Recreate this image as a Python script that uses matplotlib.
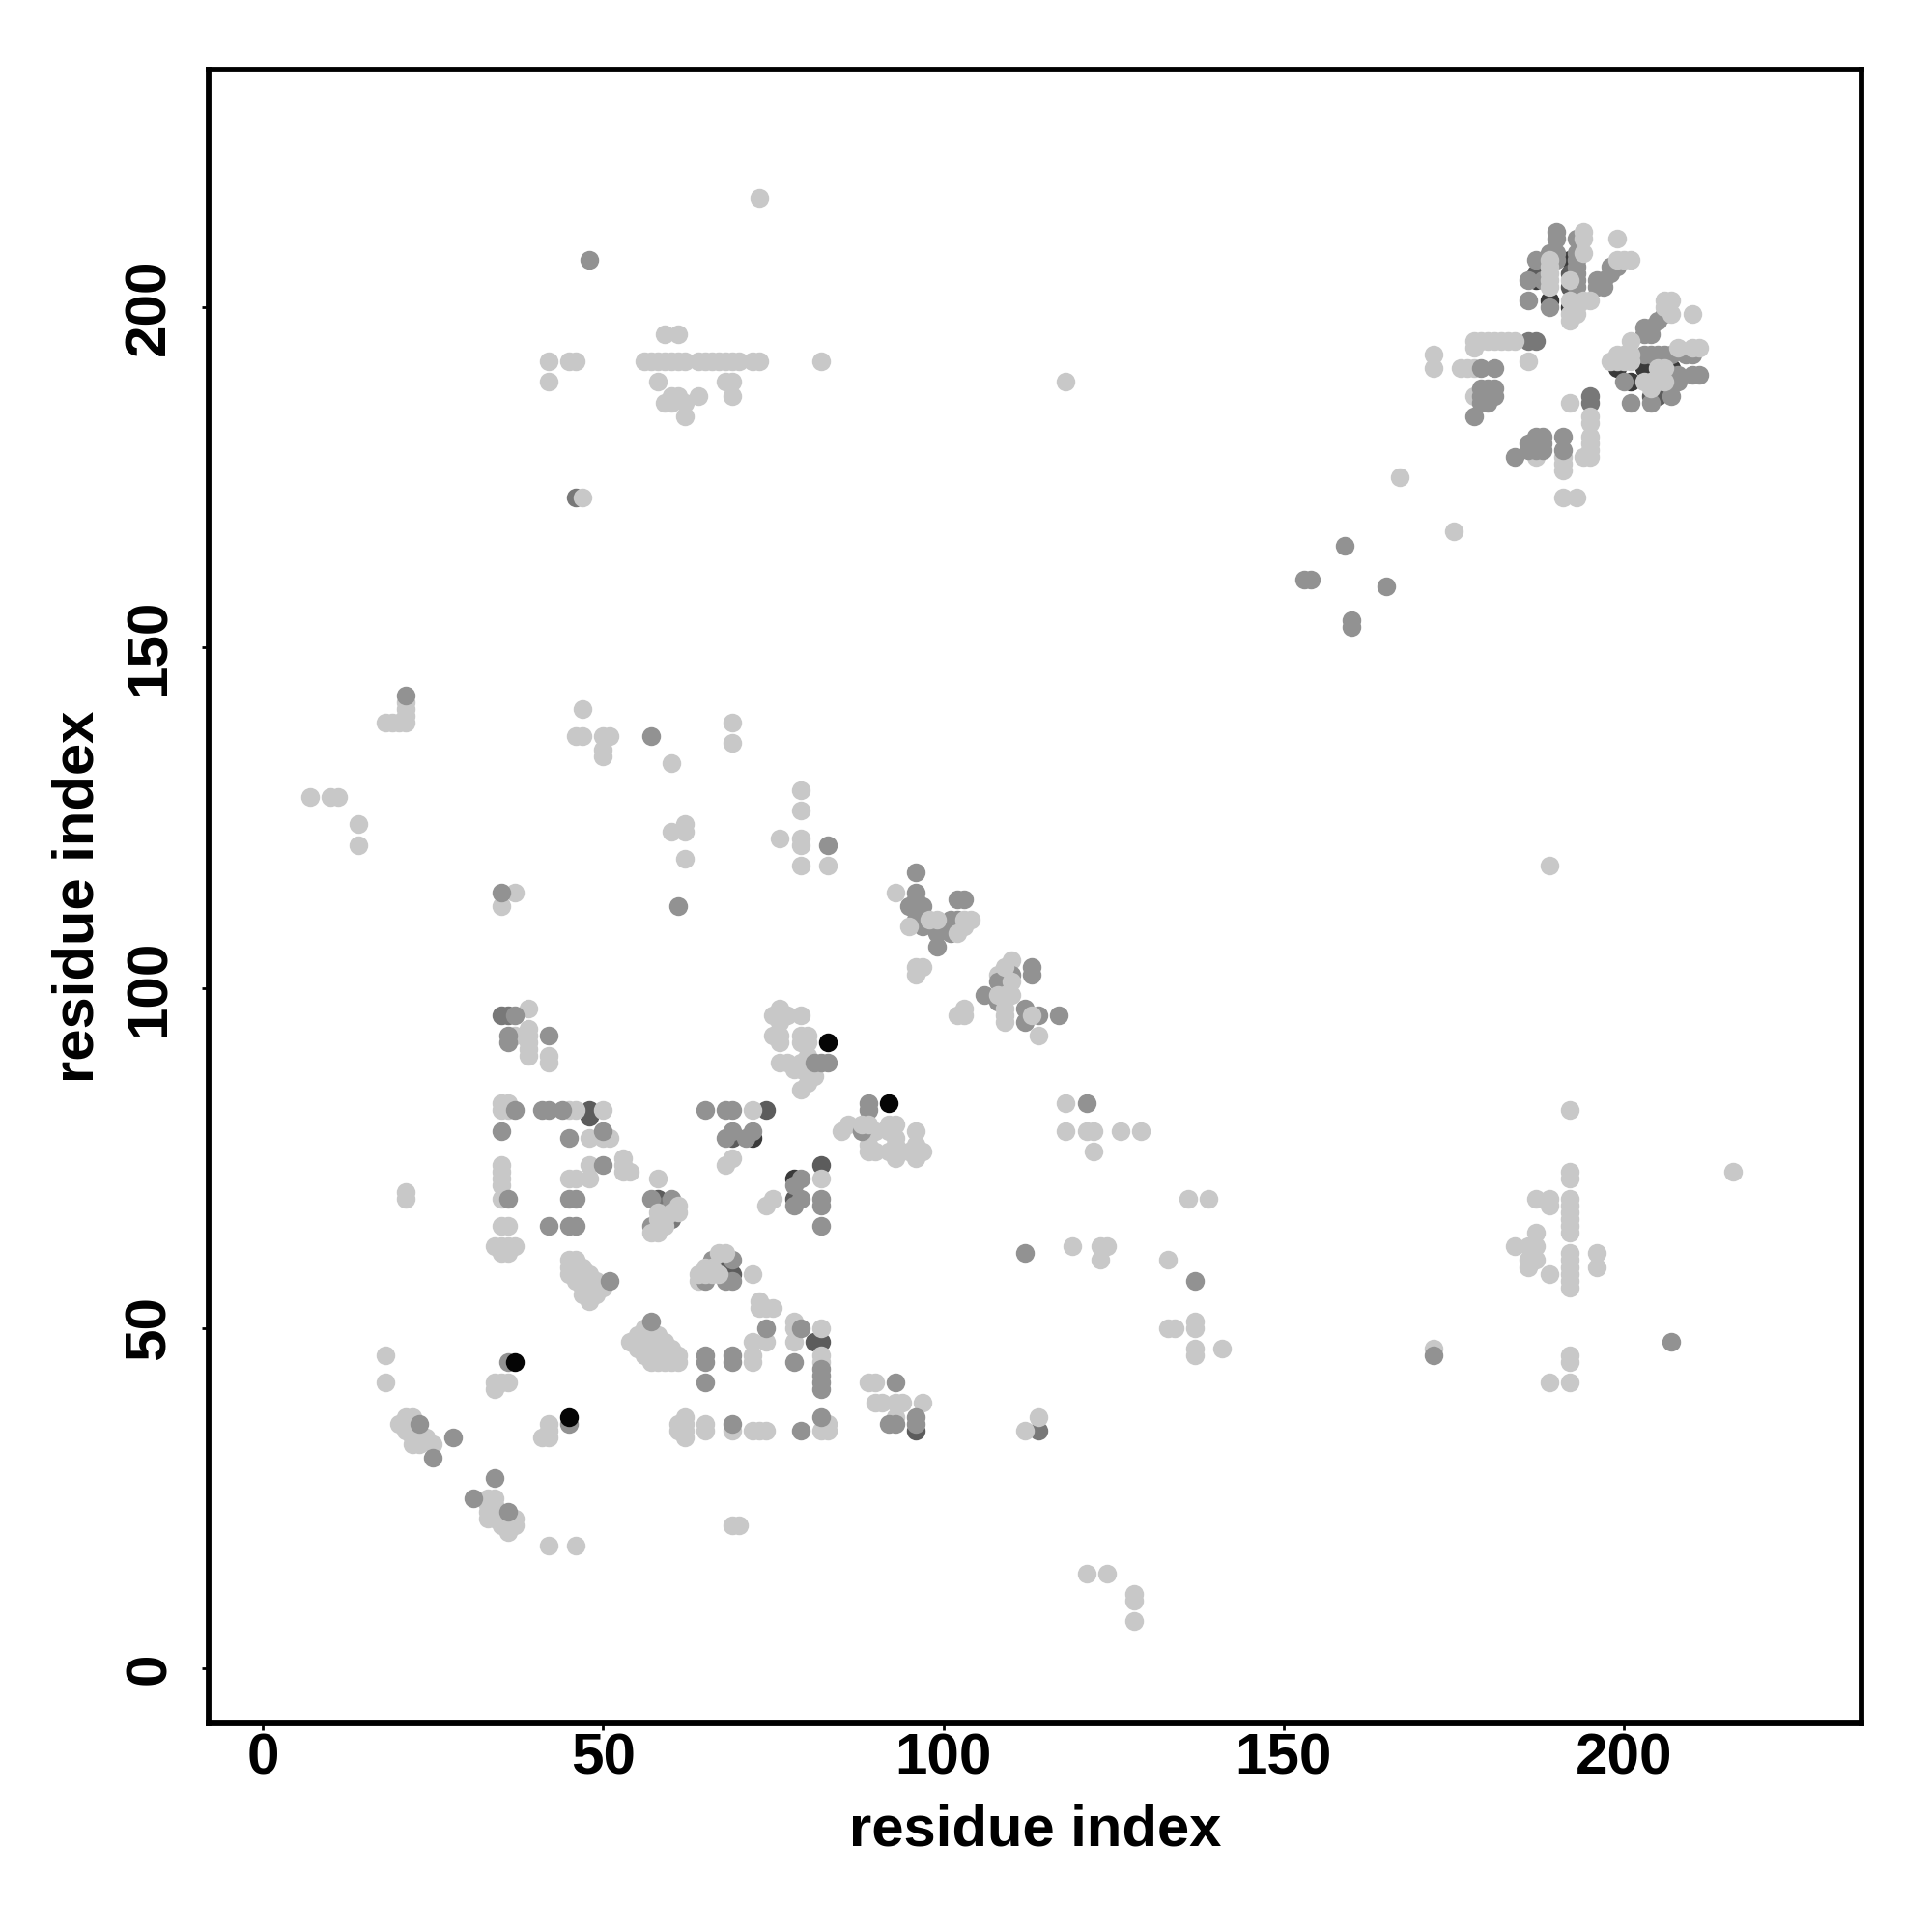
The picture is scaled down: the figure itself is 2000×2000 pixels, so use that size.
import matplotlib
matplotlib.use('Agg')
import matplotlib.pyplot as plt

plt.rcParams['font.family'] = ['Liberation Sans', 'DejaVu Sans']

# contacts as (residue, residue), grouped by grey level
darkest = [(192,200),(189,201),(187,204),(192,207),(199,191),(201,189),(207,191),(78,72),(72,78),(203,191)]

dark = [(48,82),(48,81),(74,82),(69,78),(58,69),(68,60),(69,58),(82,74),
        (78,69),(81,48),(82,48),(96,35),(187,205),(204,187),(205,187),(192,203),(192,205)]

dim = [(35,96),(59,68),(60,66),(186,195),(187,195),(195,187),(195,186),(46,172),(114,35),(36,96)]

light = [(39,97),(37,93),(39,94),(39,93),(39,92),(39,91),(39,90),(42,90),(42,89),
         (35,82),(36,82),(35,83),(36,83),(45,82),(46,82),(50,82),(48,78),(50,78),(51,78),
         (53,75),(53,74),(54,73),(53,73),(48,74),(48,72),(45,72),(46,72),
         (35,74),(35,73),(35,72),(35,71),(35,69),(35,65),(36,65),(34,62),(35,62),(36,62),(37,62),(35,61),(36,61),
         (45,60),(46,60),(45,59),(46,59),(47,59),(45,58),(46,58),(47,58),(48,58),(46,57),(47,57),(48,57),(49,57),
         (47,56),(48,56),(49,56),(50,56),(47,55),(48,55),(49,55),(48,54),
         (58,72),(72,82),(69,75),(68,74),(82,72),(75,69),(74,68),(64,57),(72,58),
         (73,54),(73,53),(74,53),(75,53),(78,51),(78,50),(82,50),(72,48),(74,48),(78,48),
         (55,49),(56,50),(54,48),(55,48),(56,49),(57,49),(58,49),(56,48),(57,48),(58,48),(59,48),(55,47),(56,47),(57,47),
         (58,47),(59,47),(60,47),(56,46),(57,46),(58,46),(59,46),(60,46),(61,46),(57,45),(58,45),(59,45),(60,45),(61,45),
         (72,46),(72,45),(82,46),(82,45),(83,36),(82,35),(83,35),(72,35),(73,35),(74,35),(69,35),(65,36),(65,35),
         (62,37),(62,36),(61,36),(61,35),(62,34),(62,35),(42,36),(42,35),(42,34),(41,34),
         (34,42),(35,42),(36,42),(34,41),(33,25),(34,25),(33,24),(34,24),(33,23),(34,23),(33,22),(34,22),(35,22),
         (37,22),(37,21),(36,20),(35,21),(36,21),(42,18),(46,18),(69,21),(70,21),
         (76,97),(75,96),(76,96),(77,96),(79,96),(76,95),(75,93),(76,93),(76,92),(79,93),(80,93),(79,92),(80,92),
         (76,89),(77,89),(79,89),(80,90),(79,88),(80,86),(79,85),(78,88),(81,87),
         (86,80),(85,79),(92,80),(93,80),(92,79),(96,79),(93,77),(89,76),(90,76),(92,76),(93,75),
         (95,76),(96,77),(97,76),(96,75),(89,77),(93,78),(90,79),
         (118,83),(118,79),(121,79),(122,79),(126,79),(129,79),(122,76),(119,62),(123,62),(124,62),(123,60),
         (89,42),(90,42),(90,39),(91,39),(93,39),(94,39),(97,39),(93,37),(112,35),(114,37),
         (93,114),(96,103),(97,103),(96,102),(110,104),(108,102),(103,97),(102,96),(103,96),(114,93),
         (73,216),(42,192),(45,192),(46,192),(56,192),(57,192),(58,192),(59,192),(60,192),(61,192),(62,192),(64,192),
         (65,192),(66,192),(67,192),(68,192),(69,192),(70,192),(72,192),(73,192),(82,192),(59,196),(61,196),
         (42,189),(58,189),(68,189),(69,189),(59,186),(60,187),(61,187),(62,186),(64,187),(69,187),(62,184),(60,186),
         (118,189),(47,172),(167,175),(175,167),
         (21,142),(21,141),(21,140),(21,139),(18,139),(19,139),(20,139),(7,128),(10,128),(11,128),(14,124),(14,121),
         (47,141),(46,137),(47,137),(50,137),(51,137),(50,135),(50,134),(60,133),(69,139),(69,136),(60,123),(62,124),
         (62,123),(62,119),(79,129),(79,126),(76,122),(79,122),(79,121),(79,118),(83,118),(189,118),(37,114),(35,112),
         (21,70),(21,69),(18,46),(18,42),(20,36),(21,37),(22,37),(21,36),(21,35),(22,34),(22,33),(23,33),(23,34),(24,34),(25,33),(22,36),
         (121,14),(124,14),(128,11),(128,10),(128,7),(133,60),(133,50),(134,50),(137,51),(137,50),(137,47),(137,46),(141,47),
         (136,69),(139,69),(172,47),(216,73),(192,82),(192,73),(192,72),(192,69),(192,68),(192,67),(192,66),(192,65),(192,64),
         (192,61),(192,60),(192,59),(192,58),(192,57),(192,56),(192,46),(192,45),(192,42),(187,69),(189,69),(189,68),(184,62),
         (187,64),(187,62),(186,62),(186,60),(186,59),(187,60),(189,58),(196,61),(196,59),(189,42),
         (192,186),(195,184),(195,183),(195,181),(195,180),(195,179),(195,178),(194,178),(187,178),(191,178),(191,177),(191,176),
         (191,172),(193,172),(172,193),(172,191),(176,191),(177,191),(178,191),(178,195),(179,195),(180,195),(181,195),(182,195),
         (183,195),(184,195),(178,194),(186,192),(178,187)]

mid = [(37,96),(36,92),(36,93),(42,93),(37,82),(41,82),(42,82),(44,82),(35,79),(45,78),(50,79),(50,74),(36,69),
       (45,69),(46,69),(42,65),(45,65),(46,65),(51,57),(57,69),(60,69),(60,68),(57,65),(59,67),
       (65,82),(68,82),(69,82),(69,79),(68,78),(72,79),(71,78),(79,72),(78,71),(79,69),(78,68),(82,69),(82,68),(82,65),
       (69,60),(66,60),(65,57),(68,57),(69,57),(74,50),(79,50),(57,51),(65,46),(65,45),(69,46),(69,45),(65,42),(78,45),
       (82,44),(82,43),(82,42),(82,41),(82,37),(79,35),(69,36),(45,36),(36,45),(34,28),(31,25),(36,23),
       (81,89),(82,89),(83,89),(89,83),(89,82),(88,79),(121,83),(112,61),(93,42),(92,36),(93,36),(96,37),(96,36),
       (96,117),(96,114),(95,112),(97,112),(96,113),(96,110),(97,109),(99,109),(99,108),(99,106),(102,113),(103,113),
       (101,110),(102,110),(101,108),(110,102),(113,103),(113,102),(106,99),(108,101),(108,98),(112,97),(112,95),(114,96),(117,96),
       (48,207),(159,165),(153,160),(154,160),(165,159),(160,154),(160,153),(21,143),(57,137),(61,112),(83,121),(35,114),
       (23,36),(25,31),(28,34),(137,57),(172,46),(207,48),
       (190,211),(190,210),(193,210),(193,208),(190,208),(189,208),(187,207),(193,207),(193,206),(193,205),(193,204),(193,203),
       (190,207),(186,204),(188,204),(186,201),(189,200),(198,206),(199,206),(198,205),(197,204),(196,204),(196,203),(197,203),
       (206,199),(205,198),(204,197),(203,197),(203,196),(204,196),(204,193),(203,193),(205,193),(206,193),(207,193),(210,193),(209,193),
       (210,190),(211,190),(208,190),(207,190),(200,189),(208,189),(204,186),(207,187),(201,186),
       (179,191),(181,191),(179,188),(180,188),(181,188),(179,187),(180,187),(181,187),(179,186),(180,186),(178,184),
       (184,178),(186,180),(187,181),(188,181),(186,179),(187,179),(188,179),(188,180),(187,180),(191,181),(191,179)]

pale_top = [(199,210),(194,211),(194,210),(194,208),(189,207),(189,206),(189,205),(189,204),(189,203),(192,204),(192,201),
            (192,199),(192,198),(193,199),(194,201),(195,201),(193,200),(201,207),(200,207),(199,207),
            (207,201),(206,200),(207,199),(210,199),(206,201),(201,195),(208,194),(210,194),(211,194),(199,193),(200,193),(201,193),
            (198,192),(199,192),(200,192),(201,192),(205,191),(206,191),(203,189),(204,189),(205,189),(206,189),(204,188),
            (95,109),(98,110),(99,110),(103,109),(104,110),(103,110),(102,108),
            (108,99),(109,99),(110,99),(110,101),(109,103),(109,97),(109,96),(109,95),(113,96),
            (88,80),(89,80),(61,68),(61,67),(58,67),(58,66),(59,65),(59,66),(60,67),(58,64),(57,64),
            (67,61),(68,61),(65,59),(66,59),(64,58),(67,58),(65,58),(66,58)]

black = [(37,45),(45,37),(83,92),(92,83)]

groups = [(darkest, '#3a3a3a'), (dark, '#5c5c5c'), (dim, '#787878'), (light, '#c8c8c8'), (mid, '#929292'),
          (pale_top, '#c8c8c8'), (black, '#050505')]

ticks = [0, 50, 100, 150, 200]

fig = plt.figure(figsize=(10, 10), dpi=200)
ax = fig.add_axes([216/2000, 216/2000, 1711/2000, 1712/2000])

for pts, col in groups:
    xs = [p[0] for p in pts]
    ys = [p[1] for p in pts]
    ax.scatter(xs, ys, s=49, c=col, linewidths=0, zorder=3)

ax.set_xlim(-7.95, 234.9)
ax.set_ylim(-8.05, 234.9)
ax.set_xticks(ticks)
ax.set_yticks(ticks)
ax.tick_params(axis='both', length=2.5, width=1.0, labelsize=21.7)
ax.tick_params(axis='x', pad=1)
ax.tick_params(axis='y', pad=9.5)
for lab in ax.get_xticklabels() + ax.get_yticklabels():
    lab.set_fontweight('bold')
for lab in ax.get_yticklabels():
    lab.set_rotation(90)
    lab.set_va('center')
for s in ax.spines.values():
    s.set_linewidth(2.1)

ax.set_xlabel('residue index', fontsize=21.5, fontweight='bold', va='center')
ax.set_ylabel('residue index', fontsize=21.5, fontweight='bold', va='center')
ax.xaxis.set_label_coords(0.5, -0.0646)
ax.yaxis.set_label_coords(-0.0787, 0.5)

fig.savefig('out.png', dpi=200)
